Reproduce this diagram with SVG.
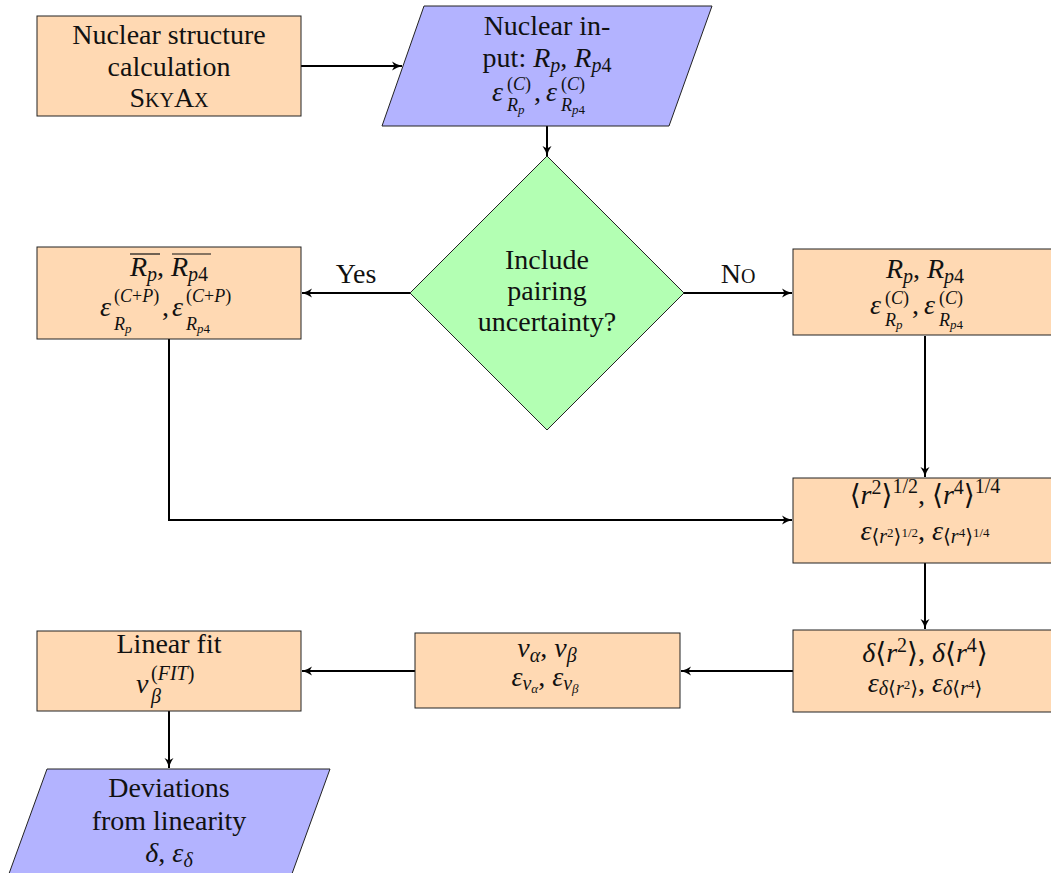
<svg xmlns="http://www.w3.org/2000/svg" width="1051" height="873" viewBox="0 0 1051 873" font-family="Liberation Serif, Times New Roman, DejaVu Serif, serif">
<style>
text{font-family:'Liberation Serif','Times New Roman','DejaVu Serif',serif;font-size:28px;fill:#111}
.c{text-anchor:middle}
.i{font-style:italic}
.s{font-size:20px}
.t{font-size:18px}
.ss{font-size:13px}
.proc{fill:#FFD9B3;stroke:#222;stroke-width:1}
.io{fill:#B3B3FF;stroke:#222;stroke-width:1}
.dec{fill:#B3FFB3;stroke:#222;stroke-width:1}
.edge{fill:none;stroke:#000;stroke-width:2}
.ov{stroke:#111;stroke-width:1.2}
</style>
<defs>
<marker id="ah" markerUnits="userSpaceOnUse" markerWidth="14" markerHeight="12" refX="10" refY="6" orient="auto">
<path d="M0,1.5 Q5,5 10,6 Q5,7 0,10.5 L2.5,6 Z" fill="#000"/>
</marker>
</defs>

<g id="connectors">
<path class="edge" d="M301,66 H402" marker-end="url(#ah)"/>
<path class="edge" d="M547,126 V156" marker-end="url(#ah)"/>
<path class="edge" d="M410,293 H302" marker-end="url(#ah)"/>
<path class="edge" d="M684,293 H792" marker-end="url(#ah)"/>
<path class="edge" d="M925,336 V477" marker-end="url(#ah)"/>
<path class="edge" d="M169,339 V520 H792" marker-end="url(#ah)"/>
<path class="edge" d="M925,563 V629" marker-end="url(#ah)"/>
<path class="edge" d="M793,671 H681" marker-end="url(#ah)"/>
<path class="edge" d="M415,671 H302" marker-end="url(#ah)"/>
<path class="edge" d="M169,711 V768" marker-end="url(#ah)"/>
<text class="c" x="356" y="283">Yes</text>
<text class="c" x="738" y="283">N<tspan style="font-variant:small-caps">o</tspan></text>
</g>

<g id="nuclear-structure">
<rect class="proc" x="37" y="16" width="264" height="100"/>
<text class="c" x="169" y="44">Nuclear structure</text>
<text class="c" x="169" y="76">calculation</text>
<text class="c" x="169" y="107" style="font-variant:small-caps">SkyAx</text>
</g>

<g id="nuclear-input">
<polygon class="io" points="424,6 712,6 669,126 382,126"/>
<text class="c" x="547" y="35">Nuclear in-</text>
<text class="c" x="547" y="67">put: <tspan class="i">R</tspan><tspan class="i s" dy="5">p</tspan><tspan dy="-5">, </tspan><tspan class="i">R</tspan><tspan class="s" dy="5"><tspan class="i">p</tspan>4</tspan></text>
<text class="i" x="492" y="101">ε</text>
<text class="t" x="507" y="90">(<tspan class="i">C</tspan>)</text>
<text class="i t" x="507" y="111">R<tspan class="ss" dy="3">p</tspan></text>
<text x="534" y="101">,</text>
<text class="i" x="546" y="101">ε</text>
<text class="t" x="561" y="90">(<tspan class="i">C</tspan>)</text>
<text class="i t" x="561" y="111">R<tspan class="ss" dy="3">p<tspan style="font-style:normal">4</tspan></tspan></text>
</g>

<g id="pairing-decision">
<polygon class="dec" points="547,156 684,293 547,430 410,293"/>
<text class="c" x="547" y="269">Include</text>
<text class="c" x="547" y="300">pairing</text>
<text class="c" x="547" y="331">uncertainty?</text>
</g>

<g id="with-pairing">
<rect class="proc" x="37" y="247" width="264" height="92"/>
<text class="c" x="169" y="276"><tspan class="i">R</tspan><tspan class="i s" dy="5">p</tspan><tspan dy="-5">, </tspan><tspan class="i">R</tspan><tspan class="s" dy="5"><tspan class="i">p</tspan>4</tspan></text>
<line class="ov" x1="130" y1="254" x2="160" y2="254"/>
<line class="ov" x1="172" y1="254" x2="211" y2="254"/>
<text class="i" x="100" y="316">ε</text>
<text class="t" x="114" y="302">(<tspan class="i">C</tspan>+<tspan class="i">P</tspan>)</text>
<text class="i t" x="114" y="330">R<tspan class="ss" dy="3">p</tspan></text>
<text x="162" y="316">,</text>
<text class="i" x="172" y="316">ε</text>
<text class="t" x="186" y="302">(<tspan class="i">C</tspan>+<tspan class="i">P</tspan>)</text>
<text class="i t" x="186" y="330">R<tspan class="ss" dy="3">p<tspan style="font-style:normal">4</tspan></tspan></text>
</g>

<g id="without-pairing">
<rect class="proc" x="793" y="249" width="264" height="86"/>
<text class="c" x="925" y="278"><tspan class="i">R</tspan><tspan class="i s" dy="5">p</tspan><tspan dy="-5">, </tspan><tspan class="i">R</tspan><tspan class="s" dy="5"><tspan class="i">p</tspan>4</tspan></text>
<text class="i" x="870" y="314">ε</text>
<text class="t" x="885" y="304">(<tspan class="i">C</tspan>)</text>
<text class="i t" x="885" y="326">R<tspan class="ss" dy="3">p</tspan></text>
<text x="912" y="314">,</text>
<text class="i" x="924" y="314">ε</text>
<text class="t" x="939" y="304">(<tspan class="i">C</tspan>)</text>
<text class="i t" x="939" y="326">R<tspan class="ss" dy="3">p<tspan style="font-style:normal">4</tspan></tspan></text>
</g>

<g id="radii-moments">
<rect class="proc" x="793" y="478" width="264" height="85"/>
<text class="c" x="925" y="504">⟨<tspan class="i">r</tspan><tspan class="s" dy="-10">2</tspan><tspan dy="10">⟩</tspan><tspan class="s" dy="-11">1/2</tspan><tspan dy="11">, ⟨</tspan><tspan class="i">r</tspan><tspan class="s" dy="-10">4</tspan><tspan dy="10">⟩</tspan><tspan class="s" dy="-11">1/4</tspan></text>
<text class="c" x="925" y="540"><tspan class="i">ε</tspan><tspan class="s" dy="3">⟨<tspan class="i">r</tspan></tspan><tspan class="ss" dy="-6">2</tspan><tspan class="s" dy="6">⟩</tspan><tspan class="ss" dy="-6">1/2</tspan><tspan dy="3">, </tspan><tspan class="i">ε</tspan><tspan class="s" dy="3">⟨<tspan class="i">r</tspan></tspan><tspan class="ss" dy="-6">4</tspan><tspan class="s" dy="6">⟩</tspan><tspan class="ss" dy="-6">1/4</tspan></text>
</g>

<g id="radii-differences">
<rect class="proc" x="793" y="630" width="264" height="82"/>
<text class="c" x="925" y="662"><tspan class="i">δ</tspan>⟨<tspan class="i">r</tspan><tspan class="s" dy="-10">2</tspan><tspan dy="10">⟩, </tspan><tspan class="i">δ</tspan>⟨<tspan class="i">r</tspan><tspan class="s" dy="-10">4</tspan><tspan dy="10">⟩</tspan></text>
<text class="c" x="925" y="692"><tspan class="i">ε</tspan><tspan class="s" dy="3"><tspan class="i">δ</tspan>⟨<tspan class="i">r</tspan></tspan><tspan class="ss" dy="-6">2</tspan><tspan class="s" dy="6">⟩</tspan><tspan dy="-3">, </tspan><tspan class="i">ε</tspan><tspan class="s" dy="3"><tspan class="i">δ</tspan>⟨<tspan class="i">r</tspan></tspan><tspan class="ss" dy="-6">4</tspan><tspan class="s" dy="6">⟩</tspan></text>
</g>

<g id="king-variables">
<rect class="proc" x="415" y="633" width="265" height="75"/>
<text class="c" x="547" y="657"><tspan class="i">ν</tspan><tspan class="i s" dy="5">α</tspan><tspan dy="-5">, </tspan><tspan class="i">ν</tspan><tspan class="i s" dy="5">β</tspan></text>
<text class="c" x="545" y="686"><tspan class="i">ε</tspan><tspan class="i s" dy="4">ν</tspan><tspan class="i ss" dy="3">α</tspan><tspan dy="-7">, </tspan><tspan class="i">ε</tspan><tspan class="i s" dy="4">ν</tspan><tspan class="i ss" dy="3">β</tspan></text>
</g>

<g id="linear-fit">
<rect class="proc" x="37" y="631" width="264" height="80"/>
<text class="c" x="169" y="653">Linear fit</text>
<text class="i" x="136" y="693">ν</text>
<text class="s" x="151" y="680">(<tspan class="i">FIT</tspan>)</text>
<text class="i s" x="151" y="703">β</text>
</g>

<g id="deviations">
<polygon class="io" points="47,769 330,769 289,882 6,882"/>
<text class="c" x="169" y="797">Deviations</text>
<text class="c" x="169" y="830">from linearity</text>
<text class="c" x="169" y="862"><tspan class="i">δ</tspan>, <tspan class="i">ε</tspan><tspan class="i s" dy="5">δ</tspan></text>
</g>
</svg>
